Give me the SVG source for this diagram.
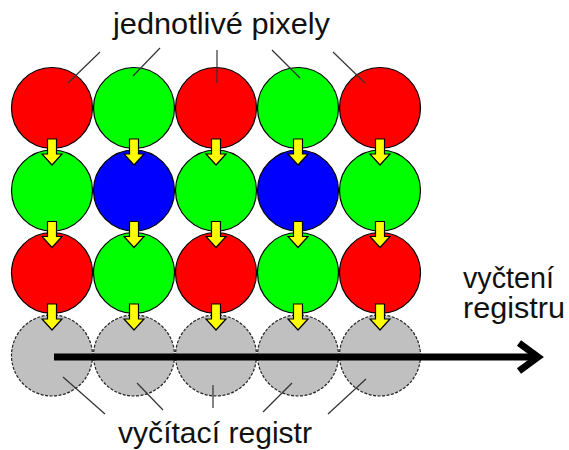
<svg xmlns="http://www.w3.org/2000/svg" xmlns:xlink="http://www.w3.org/1999/xlink" width="569" height="450" viewBox="0 0 569 450">
<style>
.px{stroke:#000;stroke-width:1.2}
.r{fill:#FF0000}.g{fill:#00FF00}.b{fill:#0000FF}
.s{fill:#C0C0C0;stroke:#222;stroke-width:1.2;stroke-dasharray:3 1.5}
.ld{stroke:#333;stroke-width:1.2;fill:none}
.t{font-family:"Liberation Sans",Arial,sans-serif;font-size:30px;fill:#111}
.ya{fill:#FFFF00;stroke:#000;stroke-width:1.2;stroke-linejoin:miter}
</style>
<defs>
<path id="ya" class="ya" d="M-4.5,0 h9 v15 h5.5 l-10,11 l-10,-11 h5.5 z"/>
</defs>
<rect width="569" height="450" fill="#fff"/>
<g id="row1">
<g id="p11"><circle class="px r" cx="52" cy="108" r="40.5"/></g>
<g id="p12"><circle class="px g" cx="134" cy="108" r="40.5"/></g>
<g id="p13"><circle class="px r" cx="216" cy="108" r="40.5"/></g>
<g id="p14"><circle class="px g" cx="298" cy="108" r="40.5"/></g>
<g id="p15"><circle class="px r" cx="380" cy="108" r="40.5"/></g>
</g>
<g id="row2">
<g id="p21"><circle class="px g" cx="52" cy="190.5" r="40.5"/></g>
<g id="p22"><circle class="px b" cx="134" cy="190.5" r="40.5"/></g>
<g id="p23"><circle class="px g" cx="216" cy="190.5" r="40.5"/></g>
<g id="p24"><circle class="px b" cx="298" cy="190.5" r="40.5"/></g>
<g id="p25"><circle class="px g" cx="380" cy="190.5" r="40.5"/></g>
</g>
<g id="row3">
<g id="p31"><circle class="px r" cx="52" cy="273" r="40.5"/></g>
<g id="p32"><circle class="px g" cx="134" cy="273" r="40.5"/></g>
<g id="p33"><circle class="px r" cx="216" cy="273" r="40.5"/></g>
<g id="p34"><circle class="px g" cx="298" cy="273" r="40.5"/></g>
<g id="p35"><circle class="px r" cx="380" cy="273" r="40.5"/></g>
</g>
<g id="register">
<g id="s1"><circle class="s" cx="52" cy="355.5" r="40.5"/></g>
<g id="s2"><circle class="s" cx="134" cy="355.5" r="40.5"/></g>
<g id="s3"><circle class="s" cx="216" cy="355.5" r="40.5"/></g>
<g id="s4"><circle class="s" cx="298" cy="355.5" r="40.5"/></g>
<g id="s5"><circle class="s" cx="380" cy="355.5" r="40.5"/></g>
</g>
<g id="connectors">
<use xlink:href="#ya" x="52" y="139"/><use xlink:href="#ya" x="134" y="139"/><use xlink:href="#ya" x="216" y="139"/><use xlink:href="#ya" x="298" y="139"/><use xlink:href="#ya" x="380" y="139"/>
<use xlink:href="#ya" x="52" y="221.5"/><use xlink:href="#ya" x="134" y="221.5"/><use xlink:href="#ya" x="216" y="221.5"/><use xlink:href="#ya" x="298" y="221.5"/><use xlink:href="#ya" x="380" y="221.5"/>
<use xlink:href="#ya" x="52" y="304"/><use xlink:href="#ya" x="134" y="304"/><use xlink:href="#ya" x="216" y="304"/><use xlink:href="#ya" x="298" y="304"/><use xlink:href="#ya" x="380" y="304"/>
<line x1="54" y1="357" x2="536" y2="357" stroke="#000" stroke-width="7"/>
<polyline points="519,343 538,357 519,371" fill="none" stroke="#000" stroke-width="7" stroke-linejoin="miter"/>
</g>
<g id="leaders">
<line class="ld" x1="100" y1="52" x2="68" y2="83"/>
<line class="ld" x1="160" y1="48" x2="133" y2="76"/>
<line class="ld" x1="217" y1="50" x2="217" y2="83"/>
<line class="ld" x1="272" y1="50" x2="300" y2="78"/>
<line class="ld" x1="333" y1="52" x2="365" y2="83"/>
<line class="ld" x1="63" y1="377" x2="105" y2="414"/>
<line class="ld" x1="137" y1="383" x2="163" y2="410"/>
<line class="ld" x1="213" y1="385" x2="213" y2="408"/>
<line class="ld" x1="292" y1="383" x2="263" y2="412"/>
<line class="ld" x1="366" y1="379" x2="328" y2="414"/>
</g>
<g id="texts">
<text class="t" x="113" y="34" textLength="217" lengthAdjust="spacingAndGlyphs">jednotlivé pixely</text>
<text class="t" x="118" y="443" textLength="194" lengthAdjust="spacingAndGlyphs">vyčítací registr</text>
<text class="t" x="463" y="288" textLength="91" lengthAdjust="spacingAndGlyphs">vyčtení</text>
<text class="t" x="463" y="318" textLength="102" lengthAdjust="spacingAndGlyphs">registru</text>
</g>
</svg>
